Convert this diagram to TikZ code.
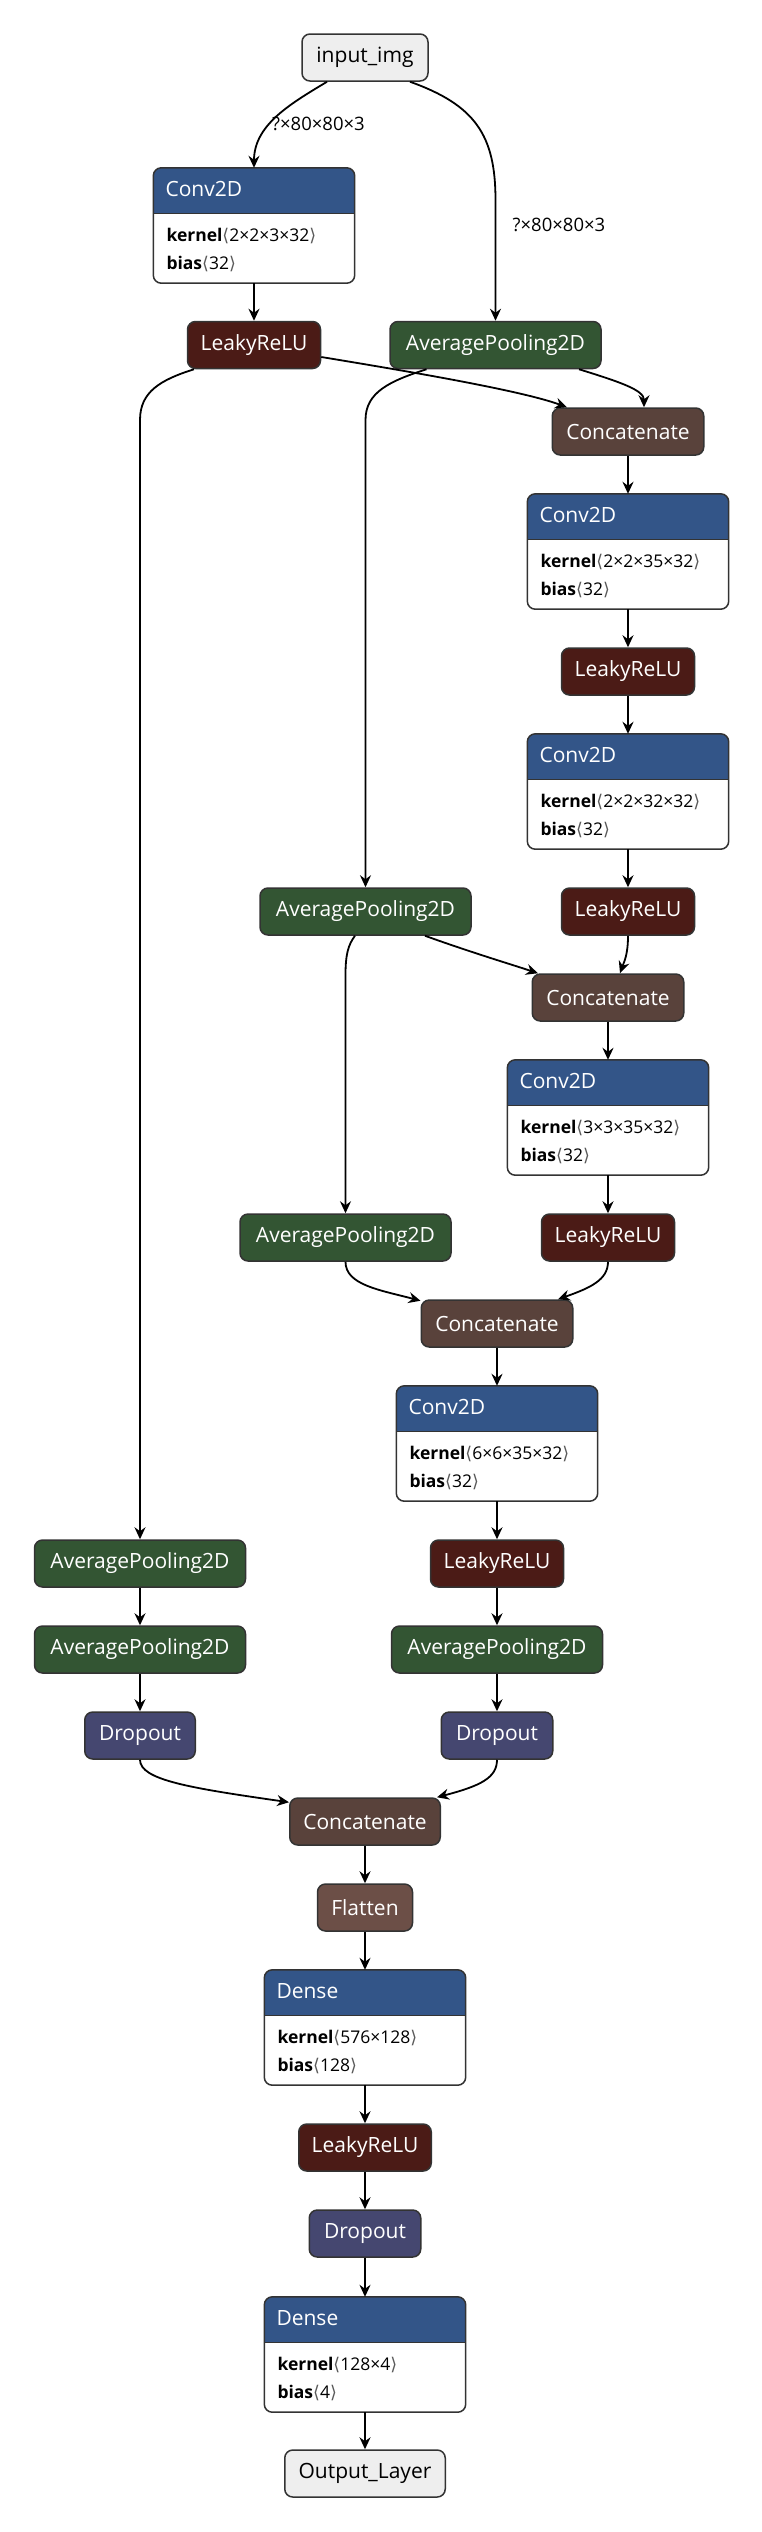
\documentclass[tikz,border=0pt]{standalone}
\usepackage{fontspec}
\setmainfont{Open Sans}
\newfontfamily\symfont{DejaVu Sans}
\usetikzlibrary{arrows.meta}
\definecolor{convblue}{RGB}{51,85,136}
\definecolor{actred}{RGB}{75,27,22}
\definecolor{poolgreen}{RGB}{51,85,51}
\definecolor{catbrown}{RGB}{89,66,59}
\definecolor{flatbrown}{RGB}{108,79,71}
\definecolor{droppurple}{RGB}{69,71,112}
\definecolor{iogray}{RGB}{238,238,238}
\definecolor{bordergray}{RGB}{51,51,51}
\definecolor{brkgray}{RGB}{90,90,90}
\newcommand\brk[1]{{\symfont\color{brkgray}⟨}#1{\symfont\color{brkgray}⟩}}
\tikzset{
  lay/.style={draw=bordergray, line width=1.5pt, rounded corners=8pt, minimum height=47pt,
    inner sep=0pt, font=\fontsize{21}{25}\selectfont, text=white},
  io/.style={lay, fill=iogray, text=black},
  act/.style={lay, fill=actred},
  pool/.style={lay, fill=poolgreen},
  cat/.style={lay, fill=catbrown},
  flat/.style={lay, fill=flatbrown},
  drop/.style={lay, fill=droppurple},
  convframe/.style={fill=white, inner sep=0pt, minimum width=201pt, minimum height=115pt},
  titletext/.style={font=\fontsize{21}{25}\selectfont, text=white, inner sep=0pt, text height=15pt, text depth=4.5pt},
  attrtext/.style={font=\fontsize{17.5}{21}\selectfont, text=black, inner sep=0pt, text height=13pt, text depth=4pt},
  elabel/.style={font=\fontsize{18.5}{22}\selectfont, text=black, inner sep=0pt},
  edge/.style={line width=1.8pt, draw=black, -{Stealth[length=12pt,width=11pt,inset=4pt]}}
}
\newcommand\convlayer[6]{%
  \node[convframe] (#1) at (#2,{#3+57.5}) {};
  \begin{scope}
    \clip[rounded corners=8pt] (#1.north west) rectangle (#1.south east);
    \fill[convblue] (#1.north west) rectangle ([yshift=-46pt]#1.north east);
  \end{scope}
  \draw[bordergray, line width=1.2pt] ([yshift=-46pt]#1.north west) -- ([yshift=-46pt]#1.north east);
  \draw[bordergray, line width=1.5pt, rounded corners=8pt] (#1.north west) rectangle (#1.south east);
  \node[titletext, anchor=west] (#1-t) at ([xshift=12pt,yshift=-23pt]#1.north west) {#4};
  \node[attrtext, anchor=west] (#1-k) at ([xshift=13pt,yshift=-69pt]#1.north west) {\textbf{kernel}\brk{#5}};
  \node[attrtext, anchor=west] (#1-b) at ([xshift=13pt,yshift=-97pt]#1.north west) {\textbf{bias}\brk{#6}};
}
\begin{document}
\begin{tikzpicture}[x=1pt,y=-1pt]
\fill[white] (0,0) rectangle (762,2532);
\useasboundingbox (0,0) rectangle (762,2532);

% nodes
\node[io, minimum width=126pt] (in) at (365,57.5) {input\_img};
\convlayer{c1}{254}{168}{Conv2D}{2×2×3×32}{32}
\node[act, minimum width=133pt] (relu1) at (254,345) {LeakyReLU};
\node[pool, minimum width=211pt] (pool1) at (495.5,345) {AveragePooling2D};
\node[cat, minimum width=151.5pt] (cat1) at (628,431.5) {Concatenate};
\convlayer{c2}{628}{494}{Conv2D}{2×2×35×32}{32}
\node[act, minimum width=133pt] (relu2) at (628,671.5) {LeakyReLU};
\convlayer{c3}{628}{734}{Conv2D}{2×2×32×32}{32}
\node[act, minimum width=133pt] (relu3) at (628,911.5) {LeakyReLU};
\node[pool, minimum width=211pt] (pool2) at (365.5,911.5) {AveragePooling2D};
\node[cat, minimum width=151.5pt] (cat2) at (608,997.5) {Concatenate};
\convlayer{c4}{608}{1060}{Conv2D}{3×3×35×32}{32}
\node[pool, minimum width=211pt] (pool3) at (345.5,1237.5) {AveragePooling2D};
\node[act, minimum width=133pt] (relu4) at (608,1237.5) {LeakyReLU};
\node[cat, minimum width=151.5pt] (cat3) at (497,1323.5) {Concatenate};
\convlayer{c5}{497}{1386}{Conv2D}{6×6×35×32}{32}
\node[act, minimum width=133pt] (relu5) at (497,1563.5) {LeakyReLU};
\node[pool, minimum width=211pt] (pool4) at (140,1563.5) {AveragePooling2D};
\node[pool, minimum width=211pt] (pool5) at (140,1649.5) {AveragePooling2D};
\node[pool, minimum width=211pt] (pool6) at (497,1649.5) {AveragePooling2D};
\node[drop, minimum width=110.5pt] (drop1) at (140,1735.5) {Dropout};
\node[drop, minimum width=111.5pt] (drop2) at (497,1735.5) {Dropout};
\node[cat, minimum width=150.5pt] (cat4) at (365,1821.5) {Concatenate};
\node[flat, minimum width=95pt] (flat) at (365,1907.5) {Flatten};
\convlayer{d1}{365}{1970}{Dense}{576×128}{128}
\node[act, minimum width=132.5pt] (relu6) at (365,2147.5) {LeakyReLU};
\node[drop, minimum width=111.5pt] (drop3) at (365,2233.5) {Dropout};
\convlayer{d2}{365}{2297}{Dense}{128×4}{4}
\node[io, minimum width=160.5pt] (out) at (365,2473.5) {Output\_Layer};

% edges
\draw[edge] ([xshift=-38pt]in.south) .. controls (290,104) and (254,125) .. (c1.north);
\node[elabel] (l1) at (318.5,124) {?×80×80×3};
\draw[edge] ([xshift=45pt]in.south) .. controls (475,105) and (495.5,135) .. (495.5,200) -- (pool1.north);
\node[elabel] (l2) at (559,225) {?×80×80×3};
\draw[edge] (c1.south) -- (relu1.north);
\draw[edge] ([xshift=-60pt]relu1.south) .. controls (160,380) and (140,392) .. (140,420) -- (pool4.north);
\draw[edge] ([yshift=-12pt]relu1.east) .. controls (400,370) and (520,390) .. ([xshift=-61pt]cat1.north);
\draw[edge] ([xshift=83.5pt]pool1.south) .. controls (620,382) and (644,390) .. ([xshift=16pt]cat1.north);
\draw[edge] ([xshift=-69pt]pool1.south) .. controls (390,381) and (365.5,392) .. (365.5,420) -- (pool2.north);
\draw[edge] (cat1.south) -- (c2.north);
\draw[edge] (c2.south) -- (relu2.north);
\draw[edge] (relu2.south) -- (c3.north);
\draw[edge] (c3.south) -- (relu3.north);
\draw[edge] ([xshift=59.5pt]pool2.south) .. controls (470,952) and (510,964) .. ([xshift=-70pt]cat2.north);
\draw[edge] (relu3.south) .. controls (628,955) and (624,962) .. ([xshift=12pt]cat2.north);
\draw[edge] ([xshift=-10.5pt]pool2.south) .. controls (348,945) and (345.5,955) .. (345.5,975) -- (pool3.north);
\draw[edge] (cat2.south) -- (c4.north);
\draw[edge] (c4.south) -- (relu4.north);
\draw[edge] (pool3.south) .. controls (345.5,1285) and (380,1290) .. ([yshift=-1.5pt]cat3.north west);
\draw[edge] (relu4.south) .. controls (608,1280) and (590,1288) .. ([xshift=61pt]cat3.north);
\draw[edge] (cat3.south) -- (c5.north);
\draw[edge] (c5.south) -- (relu5.north);
\draw[edge] (relu5.south) -- (pool6.north);
\draw[edge] (pool4.south) -- (pool5.north);
\draw[edge] (pool5.south) -- (drop1.north);
\draw[edge] (pool6.south) -- (drop2.north);
\draw[edge] (drop1.south) .. controls (140,1780) and (190,1788) .. ([yshift=-5pt]cat4.north west);
\draw[edge] (drop2.south) .. controls (497,1778) and (480,1786) .. ([xshift=72pt]cat4.north);
\draw[edge] (cat4.south) -- (flat.north);
\draw[edge] (flat.south) -- (d1.north);
\draw[edge] (d1.south) -- (relu6.north);
\draw[edge] (relu6.south) -- (drop3.north);
\draw[edge] (drop3.south) -- (d2.north);
\draw[edge] (d2.south) -- (out.north);
\end{tikzpicture}
\end{document}
